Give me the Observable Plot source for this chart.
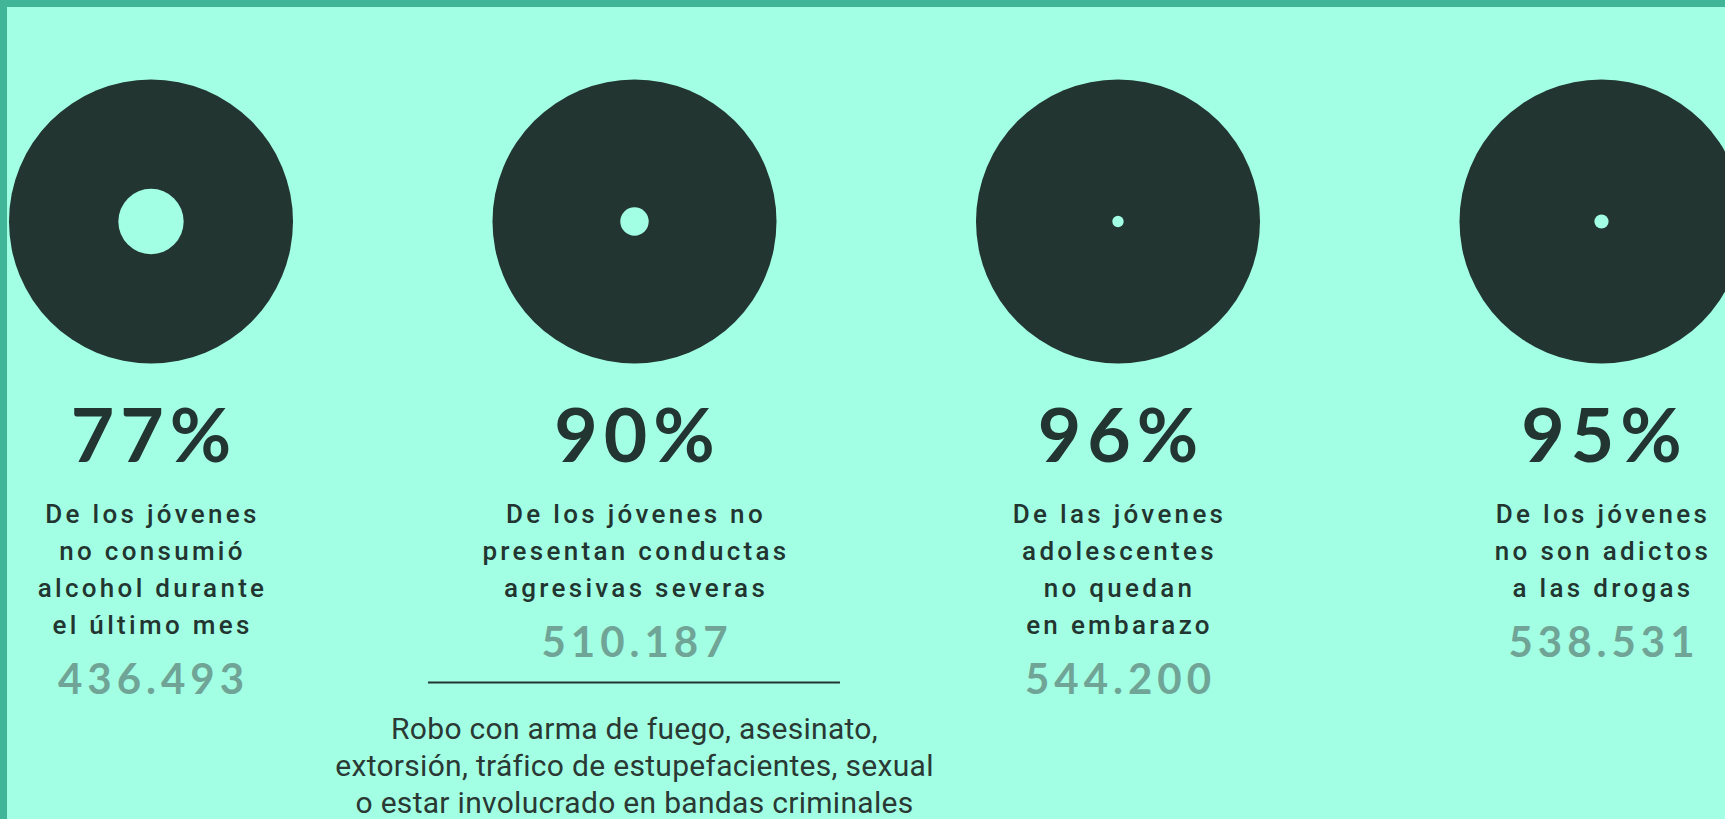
<!DOCTYPE html>
<html>
<head>
<meta charset="utf-8">
<script src="https://cdn.jsdelivr.net/npm/d3@7"></script>
<script src="https://cdn.jsdelivr.net/npm/@observablehq/plot@0.6"></script>
<style>
  html, body { margin: 0; padding: 0; background: #a3ffe3; }
  #frame {
    width: 1718px; height: 812px; overflow: hidden;
    border-top: 7px solid #40b597; border-left: 7px solid #40b597;
    background: #a3ffe3;
  }
  #frame svg { display: block; }
</style>
</head>
<body>
<div id="frame"></div>
<script>
// ---- data ----
const categories = ["alcohol", "agresividad", "embarazo", "drogas"];
const percentages = [77, 90, 96, 95];
const descriptions = [
  "De los jóvenes\nno consumió\nalcohol durante\nel último mes",
  "De los jóvenes no\npresentan conductas\nagresivas severas",
  "De las jóvenes\nadolescentes\nno quedan\nen embarazo",
  "De los jóvenes\nno son adictos\na las drogas"
];
const counts = [436493, 510187, 544200, 538531];
const footnoteCategory = "agresividad";
const footnoteLines = [
  "Robo con arma de fuego, asesinato,",
  "extorsión, tráfico de estupefacientes, sexual",
  "o estar involucrado en bandas criminales"
];

// ---- styling ----
const dark = "#223530";
const bg = "#a3ffe3";
const muted = "#6fa496";
const pctSize = 75, descSize = 26, numSize = 42, fnSize = 30;

const locale = d3.formatLocale({decimal: ",", thousands: ".", grouping: [3], currency: ["$", ""]});
const fmt = locale.format(",d");

const items = categories.map((c, i) => ({
  cat: c, pct: percentages[i], lines: descriptions[i].split("\n"), count: counts[i]
}));
const descRows = items.flatMap(d => d.lines.map((t, j) => ({cat: d.cat, row: j, text: t})));
const numRows = items.map(d => ({cat: d.cat, row: d.lines.length + 0.5, text: fmt(d.count)}));
const fnItem = items.find(d => d.cat === footnoteCategory);
const ruleRows = [{cat: fnItem.cat, row: fnItem.lines.length + 1.54}];
const fnRows = footnoteLines.map((t, j) => ({cat: fnItem.cat, row: fnItem.lines.length + 2.82 + j, text: t}));

const chart = Plot.plot({
  width: 1718,
  height: 812,
  marginTop: 72,
  marginBottom: 456,
  marginLeft: 0,
  marginRight: 0,
  style: {background: "transparent"},
  x: {type: "band", domain: categories, range: [-98.25, 1835.75], paddingInner: 0.148, paddingOuter: 0.074, round: false, axis: null},
  y: {type: "linear", domain: [0, 1], range: [507, 544], axis: null},
  r: {type: "linear", domain: [0, 100], range: [0, 142]},
  marks: [
    Plot.dot(items, {x: "cat", r: () => 100, fill: dark, stroke: null}),
    Plot.dot(items, {x: "cat", r: d => 100 - d.pct, fill: bg, stroke: null}),
    Plot.text(items, {
      x: "cat", text: d => d.pct + "%", frameAnchor: "bottom", dy: 98, dx: 3,
      fontSize: pctSize, fontWeight: 700, fontFamily: "Lato", fill: dark
    }),
    Plot.text(descRows, {
      x: "cat", y: "row", text: "text", dx: 1.5,
      fontSize: descSize, fontWeight: 500, fontFamily: "Roboto", fill: dark
    }),
    Plot.text(numRows, {
      x: "cat", y: "row", text: "text", dx: 2.5,
      fontSize: numSize, fontWeight: 700, fontFamily: "Lato", fill: muted
    }),
    Plot.tickY(ruleRows, {x: "cat", y: "row", stroke: dark, strokeWidth: 2}),
    Plot.text(fnRows, {
      x: "cat", y: "row", text: "text",
      fontSize: fnSize, fontWeight: 400, fontFamily: "Roboto", fill: "#2a3934"
    })
  ]
});

// letter tracking per text group
const tracking = {[pctSize]: "6px", [descSize]: "3.3px", [numSize]: "5px", [fnSize]: "0.3px"};
chart.querySelectorAll("g[font-size]").forEach(g => {
  const ls = tracking[g.getAttribute("font-size")];
  if (ls) g.style.letterSpacing = ls;
});
document.getElementById("frame").appendChild(chart);
</script>
</body>
</html>
